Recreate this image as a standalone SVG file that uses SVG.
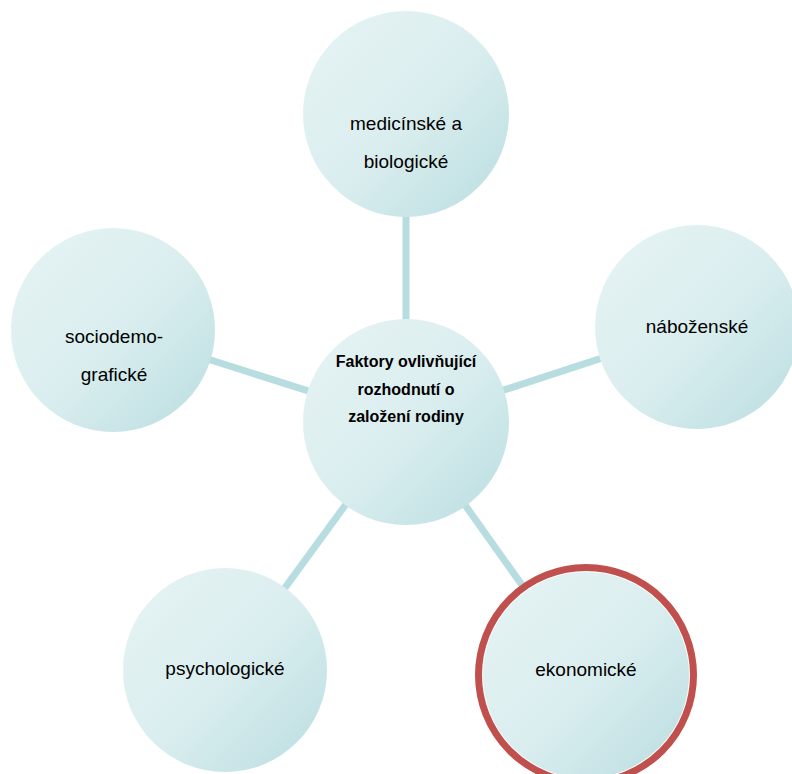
<svg xmlns="http://www.w3.org/2000/svg" width="792" height="774" viewBox="0 0 792 774">
<defs>
<linearGradient id="g" x1="0" y1="0" x2="1" y2="1">
<stop offset="0" stop-color="#e6f3f4"/>
<stop offset="0.5" stop-color="#dbeeef"/>
<stop offset="1" stop-color="#b9dde0"/>
</linearGradient>
<style>
.n{fill:url(#g);stroke:none}
.t{font-family:"Liberation Sans",Arial,sans-serif;font-size:19px;fill:#000000;text-anchor:middle}
.b{font-family:"Liberation Sans",Arial,sans-serif;font-size:16px;font-weight:bold;fill:#000000;text-anchor:middle}
.c{stroke:#b7dde0;stroke-width:7;fill:none}
</style>
</defs>
<rect width="792" height="774" fill="#ffffff"/>
<g id="connectors">
<line class="c" x1="406" y1="422" x2="406" y2="114"/>
<line class="c" x1="406" y1="422" x2="113" y2="329"/>
<line class="c" x1="406" y1="422" x2="697" y2="327"/>
<line class="c" x1="406" y1="422" x2="225" y2="670"/>
<line class="c" x1="406" y1="422" x2="586" y2="675"/>
</g>
<g id="center">
<circle class="n" cx="406" cy="422" r="103"/>
<text class="b" x="406" y="367">Faktory ovlivňující</text>
<text class="b" x="406" y="395">rozhodnutí o</text>
<text class="b" x="406" y="422">založení rodiny</text>
</g>
<g id="medicinske">
<circle class="n" cx="406" cy="114" r="103"/>
<text class="t" x="406" y="130">medicínské a</text>
<text class="t" x="406" y="168">biologické</text>
</g>
<g id="nabozenske">
<circle class="n" cx="697" cy="327" r="102"/>
<text class="t" x="697" y="333">náboženské</text>
</g>
<g id="sociodemograficke">
<circle class="n" cx="113" cy="330" r="102"/>
<text class="t" x="114" y="343">sociodemo-</text>
<text class="t" x="114" y="381">grafické</text>
</g>
<g id="psychologicke">
<circle class="n" cx="225" cy="670" r="102"/>
<text class="t" x="225" y="675">psychologické</text>
</g>
<g id="ekonomicke">
<circle class="n" cx="586" cy="675" r="104" style="stroke:#ffffff;stroke-width:2"/>
<circle cx="586" cy="675" r="107.5" fill="none" stroke="#c0504d" stroke-width="7"/>
<text class="t" x="586" y="676">ekonomické</text>
</g>
</svg>
